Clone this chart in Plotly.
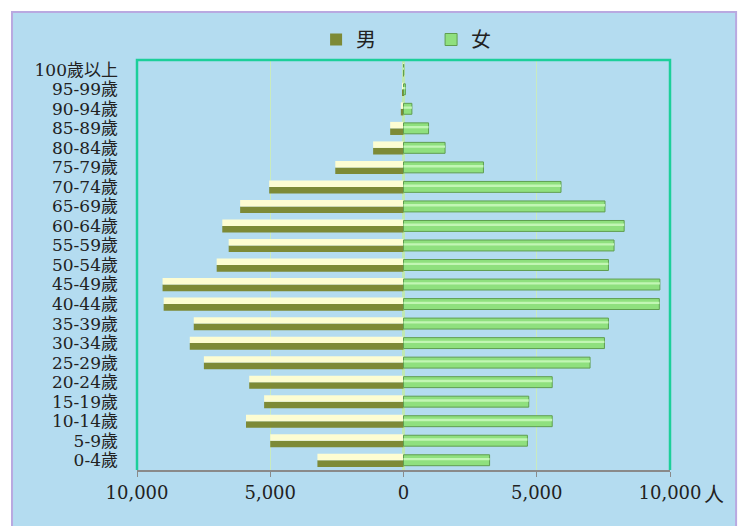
import plotly.graph_objects as go

ages = ["0-4歲", "5-9歲", "10-14歲", "15-19歲", "20-24歲", "25-29歲", "30-34歲",
        "35-39歲", "40-44歲", "45-49歲", "50-54歲", "55-59歲", "60-64歲", "65-69歲",
        "70-74歲", "75-79歲", "80-84歲", "85-89歲", "90-94歲", "95-99歲", "100歲以上"]
male = [3230, 5000, 5910, 5230, 5790, 7490, 8020, 7870, 9000, 9040, 7010,
        6560, 6800, 6130, 5040, 2560, 1140, 500, 100, 20, 3]
female = [3230, 4650, 5580, 4700, 5580, 7000, 7540, 7690, 9600, 9620, 7690,
          7900, 8280, 7560, 5910, 3000, 1560, 940, 315, 70, 10]
tick_vals = [-10000, -5000, 0, 5000, 10000]
tick_text = ["10,000", "5,000", "0", "5,000", "10,000"]

male_neg = [-v for v in male]
FONT = "'DejaVu Serif', 'Noto Sans CJK TC', serif"

fig = go.Figure()
# male: olive lower half + pale yellow upper half (bevel look)
fig.add_trace(go.Bar(y=ages, x=male_neg, orientation="h", name="男",
                     marker=dict(color="#7d8a36", line=dict(width=0)),
                     offset=-0.34, width=0.34, showlegend=True))
fig.add_trace(go.Bar(y=ages, x=male_neg, orientation="h", name="男",
                     marker=dict(color="#fdfdd2", line=dict(width=0)),
                     offset=0.0, width=0.33, showlegend=False))
# female
fig.add_trace(go.Bar(y=ages, x=female, orientation="h", name="女",
                     marker=dict(color="#8fe07e", line=dict(color="#5f9e50", width=1)),
                     offset=-0.28, width=0.56, showlegend=True))
fig.add_trace(go.Bar(y=ages, x=female, orientation="h", name="女",
                     marker=dict(color="#c2f6b4", line=dict(width=0)),
                     offset=0.0, width=0.12, showlegend=False))

fig.update_layout(
    width=738, height=526,
    margin=dict(l=137, r=68, t=60, b=56),
    paper_bgcolor="white",
    plot_bgcolor="#f1f1f1",
    barmode="overlay",
    font=dict(family=FONT, size=18, color="#222222"),
    legend=dict(orientation="h", x=0.336, xanchor="left", y=1.05, yanchor="middle",
                font=dict(size=20), bgcolor="rgba(0,0,0,0)", itemwidth=30,
                entrywidth=70, traceorder="normal"),
    xaxis=dict(range=[-10000, 10000], tickvals=tick_vals, ticktext=tick_text,
               showgrid=True, gridcolor="#c9ebbf", gridwidth=1,
               zeroline=True, zerolinecolor="#bfe8b3", zerolinewidth=3,
               showline=True, linecolor="#8a8a8a", linewidth=2,
               ticks="outside", tickcolor="#8a8a8a", ticklen=5,
               tickfont=dict(size=18, family=FONT)),
    yaxis=dict(showgrid=False, ticks="", ticklabelstandoff=18,
               tickmode="array", tickvals=ages, ticktext=ages,
               tickfont=dict(size=17, family=FONT), showline=False),
    shapes=[
        dict(type="rect", xref="paper", yref="paper",
             x0=-0.2345, x1=1.124, y0=-0.2, y1=1.117,
             fillcolor="#b4dcf0", line=dict(color="#b9a9e0", width=2), layer="below"),
        dict(type="path", xref="paper", yref="paper",
             path="M 0,0 L 0,1 L 1,1 L 1,0",
             line=dict(color="#1ccf9a", width=2.5), layer="above"),
    ],
    annotations=[
        dict(text="人", xref="paper", yref="paper", x=1, y=0, xshift=44, yshift=-25,
             showarrow=False, font=dict(size=20, family=FONT), xanchor="center",
             yanchor="middle"),
    ],
)

fig.write_html("out.html", config={"displayModeBar": False},
               post_script="document.body.style.margin='0';document.body.style.padding='0';")
